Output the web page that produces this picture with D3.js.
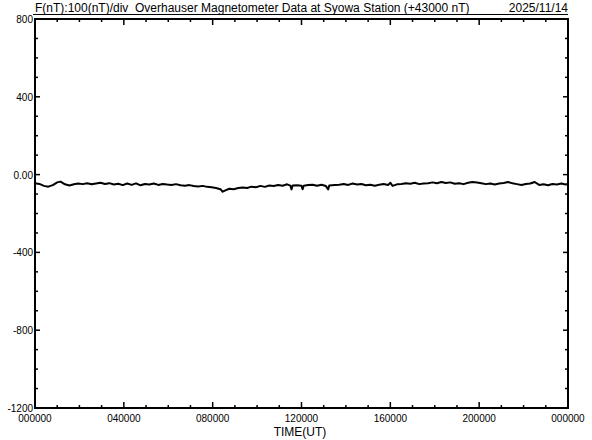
<!DOCTYPE html>
<html><head><meta charset="utf-8">
<script src="https://cdn.jsdelivr.net/npm/d3@7"></script>
<style>body{margin:0;background:#fff}svg{display:block}text{font-family:"Liberation Sans","DejaVu Sans",sans-serif;fill:#000}</style>
</head><body><svg id="c" width="592" height="440"></svg>
<script>
const titleLeft = "F(nT):100(nT)/div  Overhauser Magnetometer Data at Syowa Station (+43000 nT)";
const titleDate = "2025/11/14";
const xLabel = "TIME(UT)";
const yTickValues = [800, 400, 0, -400, -800, -1200];
const yTickLabels = ["800", "400", "0.00", "-400", "-800", "-1200"];
const xTickHours = [0, 4, 8, 12, 16, 20, 24];
const xTickLabels = ["000000", "040000", "080000", "120000", "160000", "200000", "000000"];
const hours = [0.00,0.20,0.40,0.60,0.80,1.00,1.15,1.35,1.55,1.75,1.95,2.15,2.35,2.55,2.75,2.95,3.15,3.35,3.55,3.75,3.95,4.15,4.35,4.55,4.75,4.95,5.15,5.35,5.55,5.75,5.95,6.15,6.35,6.55,6.75,6.95,7.15,7.35,7.55,7.75,7.95,8.15,8.35,8.45,8.60,8.75,8.95,9.15,9.35,9.55,9.75,9.95,10.15,10.35,10.55,10.75,10.95,11.15,11.35,11.50,11.55,11.60,11.80,12.00,12.05,12.10,12.30,12.50,12.70,12.90,13.10,13.20,13.25,13.50,13.70,13.90,14.10,14.30,14.50,14.70,14.90,15.10,15.30,15.50,15.70,15.90,16.00,16.10,16.30,16.50,16.70,16.90,17.10,17.30,17.50,17.70,17.90,18.10,18.30,18.50,18.70,18.90,19.10,19.30,19.50,19.70,19.90,20.10,20.30,20.50,20.70,20.90,21.10,21.30,21.50,21.70,21.90,22.10,22.30,22.50,22.70,22.90,23.10,23.30,23.50,23.70,23.90,24.00];
const fValues = [-44,-48,-58,-62,-54,-40,-36,-50,-56,-50,-46,-49,-44,-50,-46,-42,-48,-44,-51,-47,-54,-46,-53,-45,-55,-48,-51,-46,-53,-48,-51,-53,-49,-55,-57,-54,-59,-61,-58,-63,-65,-69,-75,-88,-80,-73,-75,-69,-66,-69,-62,-65,-58,-63,-56,-59,-53,-57,-50,-57,-76,-56,-55,-57,-75,-57,-54,-52,-57,-52,-59,-76,-56,-53,-52,-48,-53,-46,-51,-48,-55,-52,-57,-52,-48,-53,-42,-58,-50,-48,-44,-47,-42,-49,-46,-44,-40,-44,-38,-43,-40,-47,-44,-49,-42,-38,-41,-45,-49,-46,-51,-46,-43,-38,-45,-49,-53,-48,-46,-38,-53,-50,-55,-48,-51,-46,-51,-48];

const svg = d3.select("#c");
const L = 35, R = 568, T = 19, B = 408;
const x = d3.scaleLinear().domain([0, 24]).range([L, R]);
const y = d3.scaleLinear().domain([-1200, 800]).range([B, T]);

// title
svg.append("text").attr("x", L).attr("y", 12).attr("font-size", 12)
  .style("white-space", "pre").attr("xml:space", "preserve").text(titleLeft);
svg.append("text").attr("x", R).attr("y", 12).attr("text-anchor", "end").attr("font-size", 12).text(titleDate);
svg.append("line").attr("x1", L - 2).attr("x2", R).attr("y1", 14.5).attr("y2", 14.5).attr("stroke", "#000").attr("stroke-width", 1);

// minor ticks
const hourTicks = d3.range(0, 25, 1);
const yMinor = d3.range(-1200, 801, 100);
const g = svg.append("g").attr("stroke", "#000").attr("stroke-width", 1.5);
hourTicks.forEach(h => {
  const len = h % 4 === 0 ? 6 : 3;
  g.append("line").attr("x1", x(h)).attr("x2", x(h)).attr("y1", B).attr("y2", B - len);
  g.append("line").attr("x1", x(h)).attr("x2", x(h)).attr("y1", T).attr("y2", T + len);
});
yMinor.forEach(v => {
  const len = v % 400 === 0 ? 5 : 3;
  g.append("line").attr("x1", L).attr("x2", L + len).attr("y1", y(v)).attr("y2", y(v));
  g.append("line").attr("x1", R).attr("x2", R - len).attr("y1", y(v)).attr("y2", y(v));
});

// frame
svg.append("rect").attr("x", L).attr("y", T).attr("width", R - L).attr("height", B - T)
  .attr("fill", "none").attr("stroke", "#000").attr("stroke-width", 2);

// y labels
yTickValues.forEach((v, i) => {
  svg.append("text").attr("x", L - 2).attr("y", y(v) + 4).attr("text-anchor", "end")
    .attr("font-size", 10).text(yTickLabels[i]);
});
// x labels
xTickHours.forEach((h, i) => {
  svg.append("text").attr("x", x(h)).attr("y", 422).attr("text-anchor", "middle")
    .attr("font-size", 10).text(xTickLabels[i]);
});
svg.append("text").attr("x", 300).attr("y", 436).attr("text-anchor", "middle").attr("font-size", 12).text(xLabel);

// data line
const data = hours.map((h, i) => ({h, v: fValues[i]}));
svg.append("path").datum(data)
  .attr("d", d3.line().x(d => x(d.h)).y(d => y(d.v)))
  .attr("fill", "none").attr("stroke", "#000").attr("stroke-width", 2).attr("stroke-linejoin", "round");
</script></body></html>
